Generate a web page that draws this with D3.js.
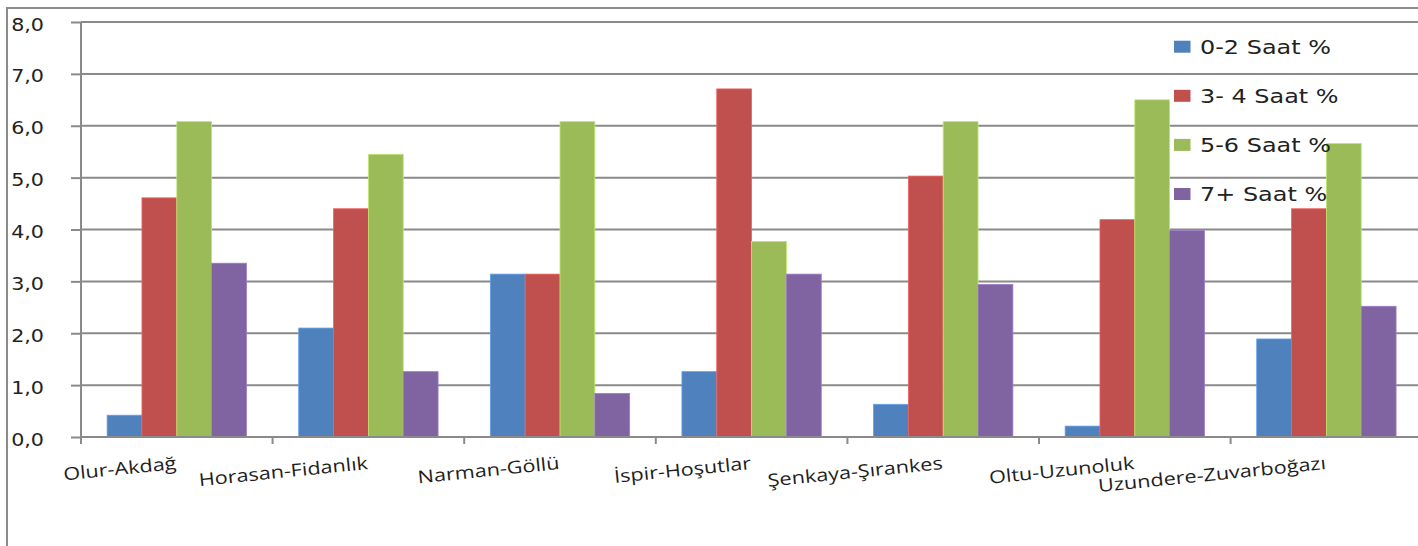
<!DOCTYPE html>
<html>
<head>
<meta charset="utf-8">
<script src="https://cdn.jsdelivr.net/npm/d3@7"></script>
<style>
  html, body { margin: 0; padding: 0; background: #fff; }
  svg { display: block; }
</style>
</head>
<body>
<div id="chart"></div>
<script>
// ---- data ----
const categories = ["Olur-Akdağ", "Horasan-Fidanlık", "Narman-Göllü", "İspir-Hoşutlar", "Şenkaya-Şırankes", "Oltu-Uzunoluk", "Uzundere-Zuvarboğazı"];
const seriesNames = ["0-2 Saat %", "3- 4 Saat %", "5-6 Saat %", "7+ Saat %"];
const s02 = [0.42, 2.10, 3.14, 1.26, 0.63, 0.21, 1.89];
const s34 = [4.61, 4.40, 3.14, 6.71, 5.03, 4.19, 4.40];
const s56 = [6.08, 5.45, 6.08, 3.77, 6.08, 6.50, 5.66];
const s7p = [3.35, 1.26, 0.84, 3.14, 2.94, 3.98, 2.52];
const yTicks = [0, 1, 2, 3, 4, 5, 6, 7, 8];
const colors = ["#4F81BD", "#C0504D", "#9BBB59", "#8064A2"];

const seriesValues = [s02, s34, s56, s7p];

(function () {
// ---- layout ----
const W = 1418, H = 546;
const plotLeft = 81, plotTop = 22, plotBottom = 437;
const bandW = 191.6;
const plotRight = plotLeft + bandW * categories.length;
const gridColor = "#8a8a8a";

const svg = d3.select("#chart").append("svg")
  .attr("width", W).attr("height", H);
svg.append("rect").attr("width", W).attr("height", H).attr("fill", "#fff");

// outer border
svg.append("rect")
  .attr("x", 7).attr("y", 8).attr("width", W + 40).attr("height", H + 40)
  .attr("fill", "none").attr("stroke", "#8c8c8c").attr("stroke-width", 2);

const y = d3.scaleLinear().domain([0, 8]).range([plotBottom, plotTop]);
const x = d3.scaleBand().domain(categories).range([plotLeft, plotRight]).paddingInner(0).paddingOuter(0);
const barW = x.bandwidth() / 5.5;
const xs = d3.scaleBand().domain(seriesNames)
  .range([barW * 0.75, x.bandwidth() - barW * 0.75]).padding(0);

// gridlines
svg.append("g").selectAll("line").data(yTicks.filter(d => d > 0)).join("line")
  .attr("x1", plotLeft).attr("x2", plotRight)
  .attr("y1", d => y(d)).attr("y2", d => y(d))
  .attr("stroke", gridColor).attr("stroke-width", 2);

// y axis
const yAxis = d3.axisLeft(y).tickValues(yTicks).tickSize(10).tickFormat(() => "");
const yg = svg.append("g").attr("transform", `translate(${plotLeft},0)`).call(yAxis);
yg.select(".domain").remove();
yg.selectAll(".tick line").attr("stroke", gridColor).attr("stroke-width", 2);
svg.append("line").attr("x1", plotLeft).attr("x2", plotLeft).attr("y1", plotTop).attr("y2", plotBottom + 1)
  .attr("stroke", gridColor).attr("stroke-width", 2);

// y tick labels
svg.append("g").selectAll("text").data(yTicks).join("text")
  .attr("transform", d => `translate(44,${y(d) + 8.5}) scale(1.18,1)`)
  .attr("text-anchor", "end")
  .attr("font-family", "DejaVu Sans, Verdana, sans-serif")
  .attr("font-size", 17.5)
  .attr("fill", "#222")
  .text(d => d.toFixed(1).replace(".", ","));

// bars
const groups = svg.append("g").selectAll("g").data(categories).join("g")
  .attr("transform", d => `translate(${x(d)},0)`);
groups.selectAll("rect")
  .data((c, i) => seriesNames.map((s, k) => ({ s, k, v: seriesValues[k][i] })))
  .join("rect")
  .attr("x", d => xs(d.s))
  .attr("width", xs.bandwidth())
  .attr("y", d => y(d.v))
  .attr("height", d => y(0) - y(d.v))
  .attr("fill", d => colors[d.k])
  .attr("stroke", d => d3.color(colors[d.k]).brighter(0.6))
  .attr("stroke-width", 0.8);

// x axis
svg.append("line").attr("x1", plotLeft).attr("x2", plotRight)
  .attr("y1", plotBottom).attr("y2", plotBottom)
  .attr("stroke", gridColor).attr("stroke-width", 2);
const boundaries = categories.map(c => x(c)).concat([plotRight]);
svg.append("g").selectAll("line").data(boundaries).join("line")
  .attr("x1", d => d).attr("x2", d => d)
  .attr("y1", plotBottom).attr("y2", plotBottom + 7)
  .attr("stroke", gridColor).attr("stroke-width", 2);

// category labels
svg.append("g").selectAll("text").data(categories).join("text")
  .attr("transform", d => `translate(${x(d) + x.bandwidth() / 2},469) rotate(-5.8) scale(1.23,1)`)
  .attr("text-anchor", "end")
  .attr("font-family", "Open Sans, sans-serif")
  .attr("font-size", 17.6)
  .attr("fill", "#1e1e1e")
  .text(d => d);

// legend
const leg = svg.append("g").selectAll("g").data(seriesNames).join("g")
  .attr("transform", (d, i) => `translate(1174,${46.7 + i * 49.1})`);
leg.append("rect").attr("x", 0).attr("y", -6).attr("width", 16.5).attr("height", 12)
  .attr("fill", (d, i) => colors[i]);
leg.append("text")
  .attr("transform", "translate(26,7) scale(1.26,1)")
  .attr("font-family", "DejaVu Sans, Verdana, sans-serif")
  .attr("font-size", 19)
  .attr("fill", "#222")
  .text(d => d);
})();
</script>
</body>
</html>
